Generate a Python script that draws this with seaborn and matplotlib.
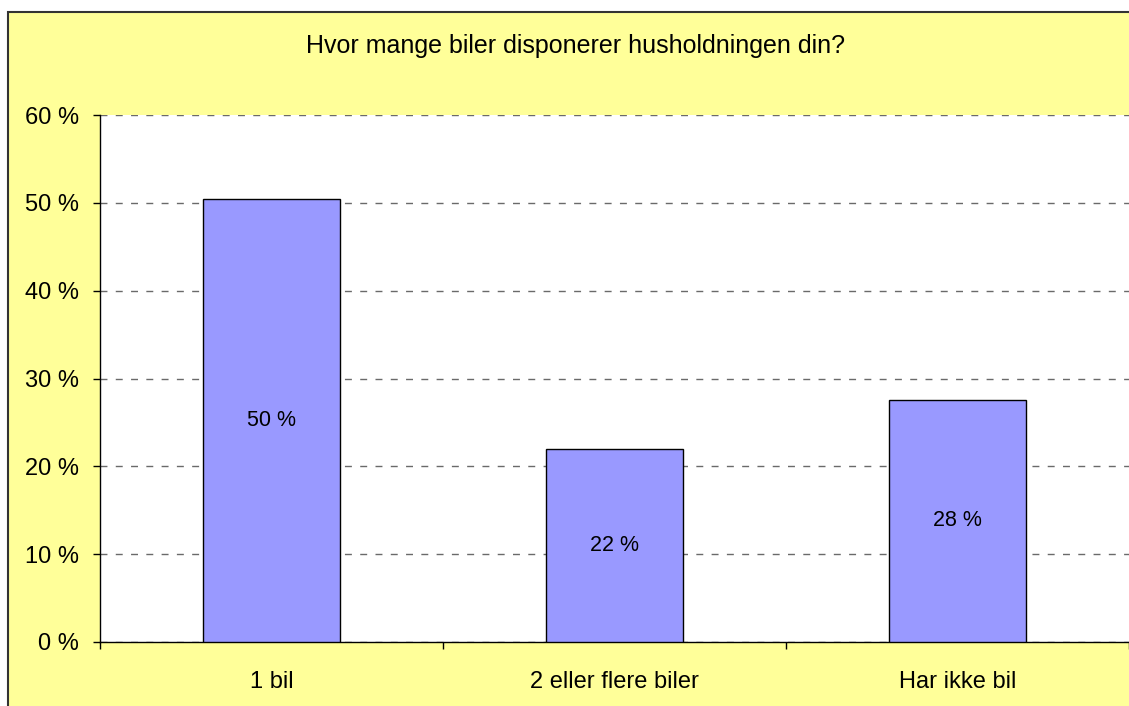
import matplotlib.pyplot as plt
import matplotlib.patches as mpatches
import seaborn as sns
import numpy as np

sns.set_style("white")
plt.rcParams['font.family'] = ['Liberation Sans', 'DejaVu Sans']
plt.rcParams['text.color'] = 'black'
plt.rcParams['xtick.color'] = 'black'
plt.rcParams['ytick.color'] = 'black'

categories = ["1 bil", "2 eller flere biler", "Har ikke bil"]
values = [50.4, 22.0, 27.6]
labels = ["50 %", "22 %", "28 %"]
yticks = [0, 10, 20, 30, 40, 50, 60]

W, H = 1129, 706
fig = plt.figure(figsize=(W / 100, H / 100), dpi=100, facecolor='white')

# yellow chart area with black border (cropped at right/bottom)
bg = mpatches.Rectangle((8 / W, -0.1), 1.2, 1 - 12 / H + 0.1, transform=fig.transFigure,
                        facecolor='#FFFF99', edgecolor='#333333', linewidth=1.5, zorder=-10)
fig.add_artist(bg)

ax = fig.add_axes([100 / W, 1 - 642 / H, 1 - 100 / W, (642 - 115) / H])
ax.set_zorder(1)
ax.set_facecolor('white')

sns.barplot(x=categories, y=values, color='#9999FF', edgecolor='black', linewidth=1,
            width=0.4, saturation=1, ax=ax, zorder=3)

for i, (v, lab) in enumerate(zip(values, labels)):
    ax.text(i, v / 2, lab, ha='center', va='center', fontsize=15.5, zorder=4)

ax.set_xlim(-0.5, 2.5)
ax.set_ylim(0, 60)
ax.set_yticks(yticks)
ax.set_yticklabels([f"{t} %" for t in yticks], fontsize=17)
ax.yaxis.grid(True, linestyle=(0, (5, 6)), color='#6a6a6a', linewidth=1, zorder=0)
ax.set_axisbelow(True)

ax.set_xticks(range(len(categories)))
ax.set_xticklabels(categories, fontsize=17)
ax.set_xticks([-0.5, 0.5, 1.5, 2.5], minor=True)
ax.tick_params(axis='x', which='major', bottom=True, length=0, pad=21)
ax.tick_params(axis='x', which='minor', bottom=True, length=5, width=1, color='black', direction='out')
ax.tick_params(axis='y', left=True, length=5, width=1, color='black', direction='out', pad=10)
ax.set_xlabel("")
ax.set_ylabel("")

for s in ['top', 'right']:
    ax.spines[s].set_visible(False)
for s in ['left', 'bottom']:
    ax.spines[s].set_color('black')
    ax.spines[s].set_linewidth(1)

fig.text(576 / W, 1 - 46 / H, "Hvor mange biler disponerer husholdningen din?",
         ha='center', va='center', fontsize=18)

fig.savefig('out.png', dpi=100, facecolor=fig.get_facecolor())
